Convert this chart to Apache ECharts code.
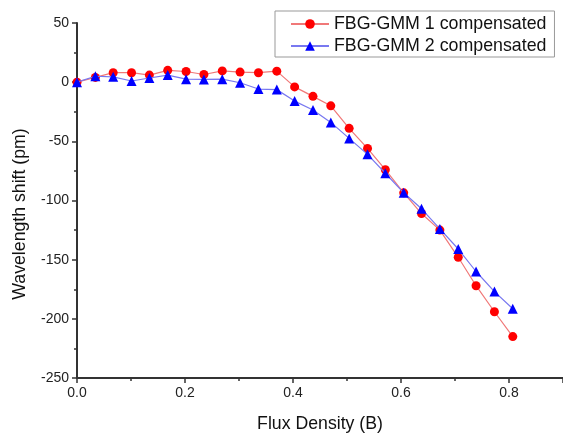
<!DOCTYPE html>
<html>
<head>
<meta charset="utf-8">
<script src="https://cdn.jsdelivr.net/npm/echarts@6/dist/echarts.min.js"></script>
<style>html,body{margin:0;padding:0;background:#fff;}#c{width:563px;height:434px;}</style>
</head>
<body>
<div id="c"></div>
<script>
const fluxDensity = [0, 0.034, 0.067, 0.101, 0.134, 0.168, 0.202, 0.235, 0.269, 0.302, 0.336, 0.370, 0.403, 0.437, 0.470, 0.504, 0.538, 0.571, 0.605, 0.638, 0.672, 0.706, 0.739, 0.773, 0.807];
const gmm1 = [0, 4, 8, 8, 6, 10, 9, 6.5, 9.5, 8.5, 8, 9.3, -4, -12, -20, -39, -56, -74, -93.5, -111, -125, -148, -172, -194, -215];
const gmm2 = [0, 5, 4.5, 1, 3.5, 6, 2.5, 2.3, 2.5, -0.5, -5.8, -6.3, -16, -23.5, -34, -47.5, -61, -77, -93.5, -107, -124, -141, -160, -177, -191.5];
const seriesNames = ['FBG-GMM 1 compensated', 'FBG-GMM 2 compensated'];
const xTitle = 'Flux Density (B)';
const yTitle = 'Wavelength shift (pm)';

const font = 'Liberation Sans, Arial, sans-serif';
const chart = echarts.init(document.getElementById('c'), null, {renderer: 'canvas'});
chart.setOption({
  animation: false,
  backgroundColor: '#fff',
  grid: {left: 77, right: 0, top: 23, bottom: 56, outerBoundsMode: 'none', containLabel: false},
  legend: {
    left: 275, top: 11, orient: 'vertical',
    borderColor: '#999', borderWidth: 1,
    padding: [3, 8, 1, 15], itemGap: 2,
    itemWidth: 38, itemHeight: 12,
    textStyle: {fontFamily: font, fontSize: 17.8, color: '#111', lineHeight: 20},
    data: seriesNames
  },
  xAxis: {
    type: 'value', min: 0, max: 0.9, interval: 0.2,
    name: xTitle, nameLocation: 'middle', nameGap: 37,
    nameTextStyle: {fontFamily: font, fontSize: 17.7, color: '#111'},
    axisLine: {onZero: false, lineStyle: {color: '#333', width: 2}},
    axisTick: {inside: false, length: 5, lineStyle: {color: '#333', width: 1.5}},
    minorTick: {show: true, splitNumber: 2, length: 3, lineStyle: {color: '#333', width: 1.5}},
    splitLine: {show: false},
    axisLabel: {fontFamily: font, fontSize: 14, color: '#222', margin: 8, showMaxLabel: false,
      formatter: v => v.toFixed(1)}
  },
  yAxis: {
    type: 'value', min: -250, max: 50, interval: 50,
    name: yTitle, nameLocation: 'middle', nameGap: 48, nameRotate: 90,
    nameTextStyle: {fontFamily: font, fontSize: 17.7, color: '#111', padding: [0, 27, 0, 0]},
    axisLine: {show: true, onZero: false, lineStyle: {color: '#333', width: 2}},
    axisTick: {show: true, inside: false, length: 5, lineStyle: {color: '#333', width: 1.5}},
    minorTick: {show: true, splitNumber: 2, length: 3, lineStyle: {color: '#333', width: 1.5}},
    splitLine: {show: false},
    axisLabel: {fontFamily: font, fontSize: 14, color: '#222', margin: 8}
  },
  series: [
    {
      name: seriesNames[0], type: 'line',
      data: fluxDensity.map((x, i) => [x, gmm1[i]]),
      symbol: 'circle', symbolSize: 9,
      itemStyle: {color: '#ff0000'},
      lineStyle: {color: '#f07878', width: 1.2},
      z: 2
    },
    {
      name: seriesNames[1], type: 'line',
      data: fluxDensity.map((x, i) => [x, gmm2[i]]),
      symbol: 'triangle', symbolSize: 10,
      itemStyle: {color: '#0000ff'},
      lineStyle: {color: '#7878f0', width: 1.2},
      z: 3
    }
  ]
});
</script>
</body>
</html>
